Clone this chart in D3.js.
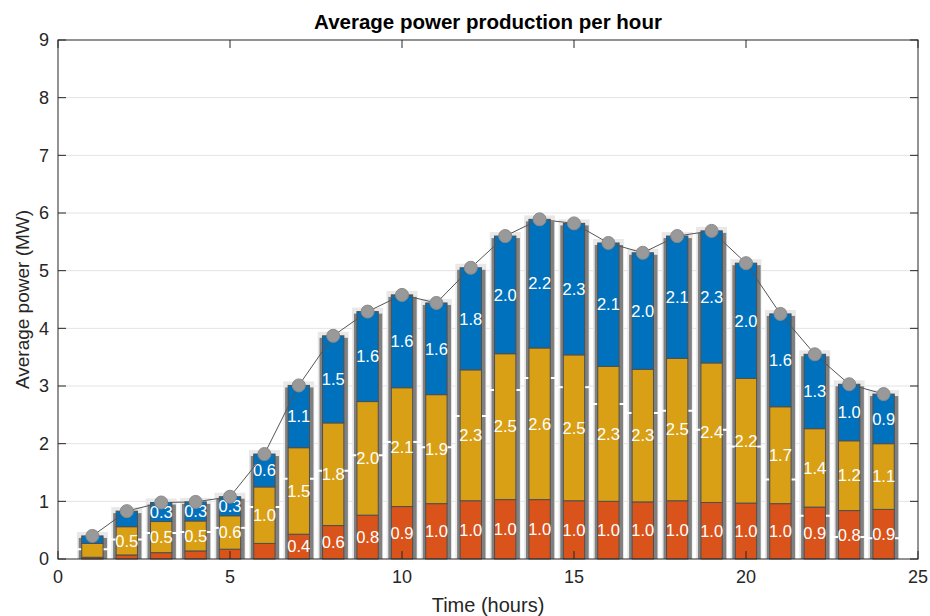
<!DOCTYPE html>
<html>
<head>
<meta charset="utf-8">
<script src="https://cdn.jsdelivr.net/npm/d3@7"></script>
<style>
  html, body { margin: 0; padding: 0; background: #fff; }
  svg text { font-family: "Liberation Sans", Arial, Helvetica, sans-serif; }
</style>
</head>
<body>
<div id="chart"></div>
<script>
// hourly data (MW)
const hours = [1, 2, 3, 4, 5, 6, 7, 8, 9, 10, 11, 12, 13, 14, 15, 16, 17, 18, 19, 20, 21, 22, 23, 24];
const bottomPart = [0.03, 0.07, 0.11, 0.14, 0.17, 0.27, 0.43, 0.58, 0.76, 0.91, 0.96, 1.01, 1.03, 1.03, 1.01, 1.00, 0.99, 1.01, 0.98, 0.97, 0.96, 0.90, 0.84, 0.86];
const middlePart = [0.24, 0.49, 0.54, 0.52, 0.58, 0.98, 1.50, 1.78, 1.97, 2.06, 1.89, 2.27, 2.53, 2.63, 2.53, 2.34, 2.30, 2.47, 2.42, 2.16, 1.68, 1.36, 1.21, 1.14];
const topPart = [0.13, 0.27, 0.33, 0.33, 0.33, 0.57, 1.08, 1.51, 1.56, 1.61, 1.59, 1.77, 2.04, 2.23, 2.28, 2.14, 2.02, 2.12, 2.29, 2.00, 1.61, 1.29, 0.98, 0.86];
// white dash marks
const markLevel = [0.17, 0.34, 0.45, 0.47, 0.54, 0.90, 1.39, 1.53, 1.80, 2.03, 1.94, 2.48, 2.93, 3.14, 2.98, 2.69, 2.53, 2.57, 2.24, 1.95, 1.38, 0.75, 0.38, 0.36];
const xTicks = [0, 5, 10, 15, 20, 25];
const yTicks = [0, 1, 2, 3, 4, 5, 6, 7, 8, 9];

const width = 930, height = 616;
const margin = { top: 40, right: 12, bottom: 57, left: 58 };

const svg = d3.select("#chart").append("svg")
    .attr("width", width)
    .attr("height", height);

const x = d3.scaleLinear().domain([0, 25]).range([margin.left, width - margin.right]);
const y = d3.scaleLinear().domain([0, 9]).range([height - margin.bottom, margin.top]);

const colors = ["#D9531A", "#D99F15", "#0071BD"];

// stacked table
const rows = hours.map((h, i) => ({ hour: h, b: bottomPart[i], m: middlePart[i], t: topPart[i], mark: markLevel[i] }));
const series = d3.stack().keys(["b", "m", "t"])(rows);
const totals = rows.map(d => d.b + d.m + d.t);

// grid
svg.append("g")
    .selectAll("line")
    .data(yTicks.slice(1, -1))
    .join("line")
    .attr("x1", x(0)).attr("x2", x(25))
    .attr("y1", d => y(d)).attr("y2", d => y(d))
    .attr("stroke", "#e3e3e3")
    .attr("stroke-width", 1);

const unit = x(1) - x(0);

// light background behind each bar
svg.append("g")
    .selectAll("rect")
    .data(rows)
    .join("rect")
    .attr("x", d => x(d.hour - 0.45))
    .attr("width", unit * 0.9)
    .attr("y", (d, i) => y(totals[i]) - 4)
    .attr("height", (d, i) => y(0) - y(totals[i]) + 4)
    .attr("fill", "#e8e8e8");

// dark shadow
svg.append("g")
    .selectAll("rect")
    .data(rows)
    .join("rect")
    .attr("x", d => x(d.hour) - unit * 0.31 - 3)
    .attr("width", unit * 0.62 + 7)
    .attr("y", (d, i) => y(totals[i]) + 2)
    .attr("height", (d, i) => y(0) - y(totals[i]) - 2)
    .attr("fill", "#808080");

// white dashes
svg.append("g")
    .selectAll("line")
    .data(rows)
    .join("line")
    .attr("x1", d => x(d.hour - 0.46))
    .attr("x2", d => x(d.hour + 0.46))
    .attr("y1", d => y(d.mark))
    .attr("y2", d => y(d.mark))
    .attr("stroke", "#fff")
    .attr("stroke-width", 2);

// stacked bars
svg.append("g")
    .selectAll("g")
    .data(series)
    .join("g")
    .attr("fill", (d, i) => colors[i])
    .selectAll("rect")
    .data(d => d)
    .join("rect")
    .attr("x", d => x(d.data.hour - 0.31))
    .attr("width", unit * 0.62)
    .attr("y", d => y(d[1]))
    .attr("height", d => y(d[0]) - y(d[1]))
    .attr("stroke", "#4f4f4f")
    .attr("stroke-width", 1);

// segment labels
const labels = [];
series.forEach(s => s.forEach(d => {
    const v = d[1] - d[0];
    if (v >= 0.3) labels.push({ hour: d.data.hour, mid: (d[0] + d[1]) / 2, v: v });
}));
svg.append("g")
    .selectAll("text")
    .data(labels)
    .join("text")
    .attr("x", d => x(d.hour))
    .attr("y", d => y(d.mid))
    .attr("dy", "0.35em")
    .attr("text-anchor", "middle")
    .attr("fill", "#fff")
    .style("font-size", "16.5px")
    .text(d => d.v.toFixed(1));

// total line + markers
svg.append("path")
    .datum(rows)
    .attr("fill", "none")
    .attr("stroke", "#555")
    .attr("stroke-width", 1)
    .attr("d", d3.line().x(d => x(d.hour)).y((d, i) => y(totals[i])));

svg.append("g")
    .selectAll("circle")
    .data(rows)
    .join("circle")
    .attr("cx", d => x(d.hour))
    .attr("cy", (d, i) => y(totals[i]))
    .attr("r", 6.5)
    .attr("fill", "#999")
    .attr("stroke", "#8a8a8a");

// axes box, ticks inward
const axisColor = "#262626";
const tl = 8;
svg.append("rect")
    .attr("x", x(0)).attr("y", y(9))
    .attr("width", x(25) - x(0)).attr("height", y(0) - y(9))
    .attr("fill", "none")
    .attr("stroke", axisColor)
    .attr("stroke-width", 1);

const tickG = svg.append("g").attr("stroke", axisColor).attr("stroke-width", 1);
xTicks.forEach(t => {
    tickG.append("line").attr("x1", x(t)).attr("x2", x(t)).attr("y1", y(0)).attr("y2", y(0) - tl);
    tickG.append("line").attr("x1", x(t)).attr("x2", x(t)).attr("y1", y(9)).attr("y2", y(9) + tl);
});
yTicks.forEach(t => {
    tickG.append("line").attr("x1", x(0)).attr("x2", x(0) + tl).attr("y1", y(t)).attr("y2", y(t));
    tickG.append("line").attr("x1", x(25)).attr("x2", x(25) - tl).attr("y1", y(t)).attr("y2", y(t));
});

svg.append("g")
    .selectAll("text")
    .data(xTicks)
    .join("text")
    .attr("x", d => x(d))
    .attr("y", y(0) + 24)
    .attr("text-anchor", "middle")
    .attr("fill", axisColor)
    .style("font-size", "18px")
    .text(d => d);

svg.append("g")
    .selectAll("text")
    .data(yTicks)
    .join("text")
    .attr("x", x(0) - 9)
    .attr("y", d => y(d))
    .attr("dy", "0.35em")
    .attr("text-anchor", "end")
    .attr("fill", axisColor)
    .style("font-size", "18px")
    .text(d => d);

// titles
svg.append("text")
    .attr("x", (x(0) + x(25)) / 2)
    .attr("y", 29)
    .attr("text-anchor", "middle")
    .attr("fill", "#000")
    .style("font-size", "20.5px")
    .style("font-weight", "bold")
    .text("Average power production per hour");

svg.append("text")
    .attr("x", (x(0) + x(25)) / 2)
    .attr("y", 612)
    .attr("text-anchor", "middle")
    .attr("fill", axisColor)
    .style("font-size", "20px")
    .text("Time (hours)");

svg.append("text")
    .attr("transform", `translate(29,${(y(0) + y(9)) / 2}) rotate(-90)`)
    .attr("text-anchor", "middle")
    .attr("fill", axisColor)
    .style("font-size", "19px")
    .text("Average power (MW)");
</script>
</body>
</html>
